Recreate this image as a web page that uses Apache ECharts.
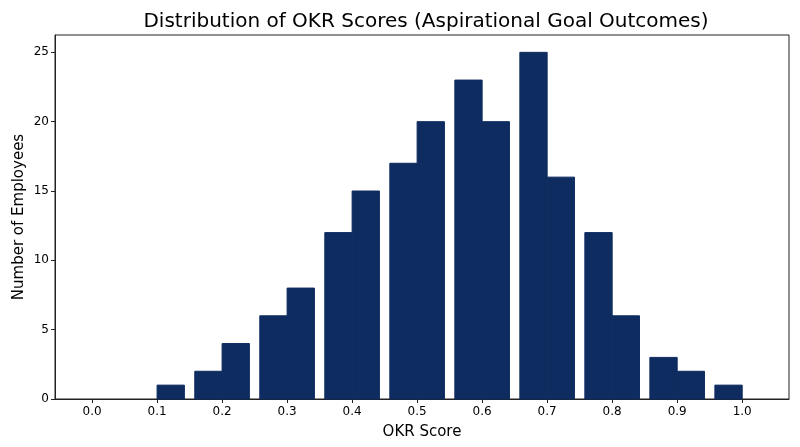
<!DOCTYPE html>
<html lang="en">
<head>
    <meta charset="UTF-8">
    <title>OKR score distribution</title>
    <style>
        html, body { margin: 0; padding: 0; background: #fff; }
        #main { width: 800px; height: 447px; }
    </style>
</head>
<body>
<div id="main"></div>
<script src="https://cdn.jsdelivr.net/npm/echarts@6/dist/echarts.min.js"></script>
<script type="text/javascript">
    // group centres on the score axis, each group has a lower and an upper half-bar
    var scoreCenters = [0.1, 0.2, 0.3, 0.4, 0.5, 0.6, 0.7, 0.8, 0.9, 1.0];
    var lowerCounts  = [0,   2,   6,   12,  17,  23,  25,  12,  3,   1];
    var upperCounts  = [1,   4,   8,   15,  20,  20,  16,  6,   2,   0];
    var xTicks = [0.0, 0.1, 0.2, 0.3, 0.4, 0.5, 0.6, 0.7, 0.8, 0.9, 1.0];
    var yTicks = [0, 5, 10, 15, 20, 25];

    var HALF = 0.042;   // width of a half-bar in score units
    var FONT = "'DejaVu Sans', sans-serif";
    var BAR = '#0e2c60';

    var bars = [];
    for (var i = 0; i < scoreCenters.length; i++) {
        if (lowerCounts[i] > 0) bars.push([scoreCenters[i] - HALF, scoreCenters[i], lowerCounts[i]]);
        if (upperCounts[i] > 0) bars.push([scoreCenters[i], scoreCenters[i] + HALF, upperCounts[i]]);
    }

    var chart = echarts.init(document.getElementById('main'));
    var option = {
        backgroundColor: '#ffffff',
        animation: false,
        title: {
            text: 'Distribution of OKR Scores (Aspirational Goal Outcomes)',
            left: 421, top: 7, textAlign: 'center',
            textStyle: { fontFamily: FONT, fontSize: 20, fontWeight: 'normal', color: '#000' }
        },
        grid: {
            left: 55, right: 11, top: 35, bottom: 48,
            show: true, borderColor: '#222', borderWidth: 1, backgroundColor: 'transparent'
        },
        xAxis: {
            type: 'value',
            min: -0.057, max: 1.072,
            name: 'OKR Score', nameLocation: 'middle', nameGap: 26,
            nameTextStyle: { fontFamily: FONT, fontSize: 15, color: '#000' },
            axisLine: { show: true, onZero: false, lineStyle: { color: '#222', width: 1 } },
            axisTick: { show: true, inside: false, length: 4, customValues: xTicks, lineStyle: { color: '#222' } },
            axisLabel: {
                customValues: xTicks, margin: 7,
                fontFamily: FONT, fontSize: 12, color: '#000',
                formatter: function (v) { return v.toFixed(1); }
            },
            splitLine: { show: false }
        },
        yAxis: {
            type: 'value',
            min: 0, max: 26.25,
            name: 'Number of Employees', nameLocation: 'middle', nameGap: 28,
            nameMoveOverlap: false,
            nameTextStyle: { fontFamily: FONT, fontSize: 15, color: '#000' },
            axisLine: { show: true, onZero: false, lineStyle: { color: '#222', width: 1 } },
            axisTick: { show: true, inside: false, length: 4, customValues: yTicks, lineStyle: { color: '#222' } },
            axisLabel: {
                customValues: yTicks, margin: 6,
                fontFamily: FONT, fontSize: 12, color: '#000'
            },
            splitLine: { show: false }
        },
        series: [{
            type: 'custom',
            data: bars,
            encode: { x: [0, 1], y: 2 },
            renderItem: function (params, api) {
                var p0 = api.coord([api.value(0), api.value(2)]);
                var p1 = api.coord([api.value(1), 0]);
                return {
                    type: 'rect',
                    shape: { x: p0[0], y: p0[1], width: p1[0] - p0[0], height: p1[1] - p0[1] },
                    style: { fill: BAR, stroke: BAR, lineWidth: 1 }
                };
            }
        }]
    };
    chart.setOption(option);
</script>
</body>
</html>
